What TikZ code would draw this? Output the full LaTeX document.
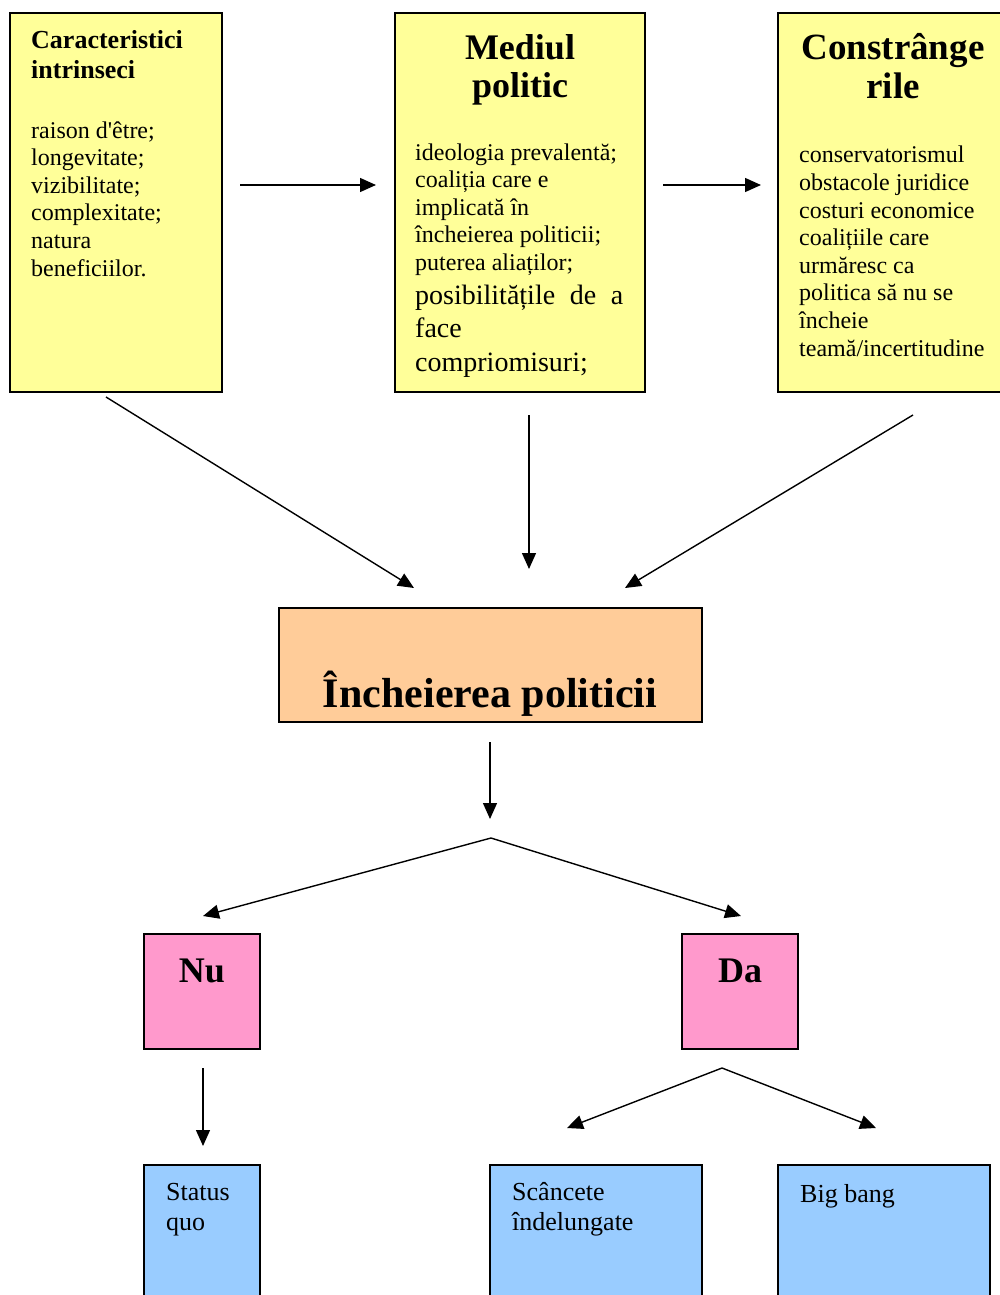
\documentclass[tikz,border=0pt]{standalone}
\usepackage{fontspec}
\setmainfont{Liberation Serif}
\usetikzlibrary{arrows.meta}
\definecolor{cyellow}{HTML}{FFFF99}
\definecolor{corange}{HTML}{FFCC99}
\definecolor{cpink}{HTML}{FF99CC}
\definecolor{cblue}{HTML}{99CCFF}
\tikzset{
  box/.style={draw=black, line width=1.8pt, anchor=north west, inner sep=0pt, outer sep=0pt},
  arr/.style={line width=1.4pt, -{Triangle[length=16pt,width=14pt]}},
  body/.style={anchor=base west, align=left, inner sep=0pt, font=\fontsize{24}{27.6}\selectfont},
  title/.style={anchor=base, align=center, inner sep=0pt, font=\bfseries\fontsize{36}{38}\selectfont},
  small/.style={anchor=base west, align=left, inner sep=0pt, font=\fontsize{26}{30}\selectfont}
}
\begin{document}
\begin{tikzpicture}[x=1pt,y=-1pt]
\useasboundingbox (0,0) rectangle (1000,1295);
\clip (0,0) rectangle (1000,1295);
% top boxes
\node[box, fill=cyellow, minimum width=212pt, minimum height=379pt] (b1) at (10,13) {};
\node[box, fill=cyellow, minimum width=250pt, minimum height=379pt] (b2) at (395,13) {};
\node[box, fill=cyellow, minimum width=240pt, minimum height=379pt] (b3) at (778,13) {};
% box 1 text (base anchor = baseline of last line)
\node[anchor=base west, align=left, inner sep=0pt, font=\bfseries\fontsize{26}{30}\selectfont] (t1) at (31,79) {Caracteristici\\intrinseci};
\node[body] (x1) at (31,276) {raison d\textquotesingle être;\\longevitate;\\vizibilitate;\\complexitate;\\natura\\beneficiilor.};
% box 2 text
\node[title] (t2) at (520,98) {Mediul\\politic};
\node[body] (x2) at (415,270.4) {ideologia prevalentă;\\coaliția care e\\implicată în\\încheierea politicii;\\puterea aliaților;};
\node[anchor=base west, align=left, inner sep=0pt, font=\fontsize{28}{33.5}\selectfont] (x2b) at (415,371) {\makebox[208pt][s]{posibilitățile de a}\\face\\compriomisuri;};
% box 3 text
\node[title, font=\bfseries\fontsize{37}{39}\selectfont] (t3) at (893,99) {Constrânge\\rile};
\node[body] (x3) at (799,356) {conservatorismul\\obstacole juridice\\costuri economice\\coalițiile care\\urmăresc ca\\politica să nu se\\încheie\\teamă/incertitudine};
% orange box
\node[box, fill=corange, minimum width=423pt, minimum height=114pt] (ob) at (279,608) {};
\node[anchor=base, inner sep=0pt, font=\bfseries\fontsize{42}{46}\selectfont] (ot) at (490,707) {Încheierea politicii};
% pink boxes
\node[box, fill=cpink, minimum width=116pt, minimum height=115pt] (nu) at (144,934) {};
\node[box, fill=cpink, minimum width=116pt, minimum height=115pt] (da) at (682,934) {};
\node[anchor=base, inner sep=0pt, font=\bfseries\fontsize{36}{40}\selectfont] (nut) at (202,982) {Nu};
\node[anchor=base, inner sep=0pt, font=\bfseries\fontsize{36}{40}\selectfont] (dat) at (740,982) {Da};
% blue boxes
\node[box, fill=cblue, minimum width=116pt, minimum height=160pt] (sq) at (144,1165) {};
\node[box, fill=cblue, minimum width=212pt, minimum height=160pt] (sc) at (490,1165) {};
\node[box, fill=cblue, minimum width=212pt, minimum height=160pt] (bb) at (778,1165) {};
\node[small] (sqt) at (166,1230) {Status\\quo};
\node[small] (sct) at (512,1230) {Scâncete\\îndelungate};
\node[small] (bbt) at (800,1202) {Big bang};
% connector coordinates
\coordinate (a1s) at (240,185);
\coordinate (a1e) at (376,185);
\coordinate (a2s) at (663,185);
\coordinate (a2e) at (761,185);
\coordinate (d1s) at (106,397);
\coordinate (d1e) at (414,588);
\coordinate (d2s) at (529,415);
\coordinate (d2e) at (529,569);
\coordinate (d3s) at (913,415);
\coordinate (d3e) at (625,588);
\coordinate (o1s) at (490,742);
\coordinate (o1e) at (490,819);
\coordinate (apx) at (491,838);
\coordinate (nue) at (203,916);
\coordinate (dae) at (741,916);
\coordinate (n1s) at (203,1068);
\coordinate (n1e) at (203,1146);
\coordinate (apx2) at (722,1068);
\coordinate (sce) at (567,1128);
\coordinate (bbe) at (876,1128);
% connectors
\draw[arr] (a1s) -- (a1e);
\draw[arr] (a2s) -- (a2e);
\draw[arr] (d1s) -- (d1e);
\draw[arr] (d2s) -- (d2e);
\draw[arr] (d3s) -- (d3e);
\draw[arr] (o1s) -- (o1e);
\draw[arr] (apx) -- (nue);
\draw[arr] (apx) -- (dae);
\draw[arr] (n1s) -- (n1e);
\draw[arr] (apx2) -- (sce);
\draw[arr] (apx2) -- (bbe);
\end{tikzpicture}
\end{document}
